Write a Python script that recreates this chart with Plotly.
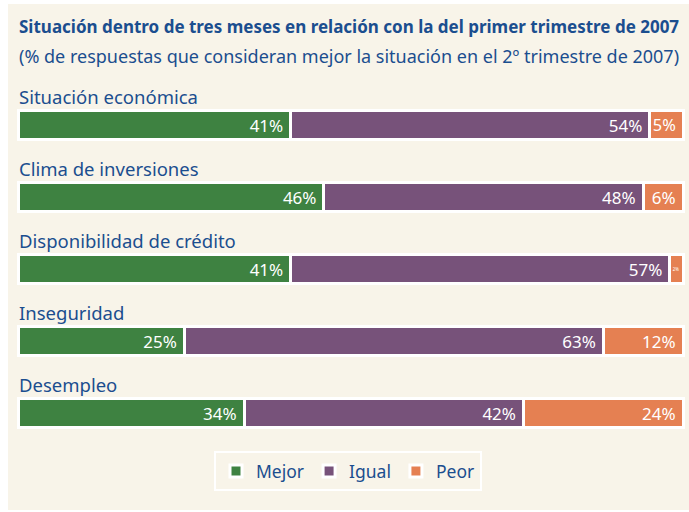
import plotly.graph_objects as go

categories = ["Situación económica", "Clima de inversiones", "Disponibilidad de crédito", "Inseguridad", "Desempleo"]
mejor = [41, 46, 41, 25, 34]
igual = [54, 48, 57, 63, 42]
peor = [5, 6, 2, 12, 24]
series_names = ["Mejor", "Igual", "Peor"]
series_colors = ["#3E8241", "#77527A", "#E58052"]

title_text = "<b>Situación dentro de tres meses en relación con la del primer trimestre de 2007</b>"
subtitle_text = "(% de respuestas que consideran mejor la situación en el 2º trimestre de 2007)"

BLUE = "#1B4E8F"
CREAM = "#F8F4E9"
FONT = "Noto Sans"

W, H = 689, 512
ML, MR, MT, MB = 16, 4, 89, 63
PW, PH = W - ML - MR, H - MT - MB

def px_to_paper_x(px):
    return (px - ML) / PW

def px_to_paper_y(py):
    return (H - MB - py) / PH

fig = go.Figure()
for name, vals, col in zip(series_names, [mejor, igual, peor], series_colors):
    fig.add_trace(go.Bar(
        name=name, y=categories, x=vals, orientation="h",
        marker=dict(color=col, line=dict(color="white", width=3)),
        text=[f"{v}%\u00a0" for v in vals], textposition="inside",
        insidetextanchor="end", textangle=0,
        insidetextfont=dict(color="white", size=17, family=FONT),
        hoverinfo="skip",
    ))

annotations = [
    dict(text=title_text, xref="paper", yref="paper", x=px_to_paper_x(17), y=px_to_paper_y(27),
         xanchor="left", yanchor="middle", showarrow=False, font=dict(size=17, color=BLUE, family=FONT)),
    dict(text=subtitle_text, xref="paper", yref="paper", x=px_to_paper_x(17), y=px_to_paper_y(56),
         xanchor="left", yanchor="middle", showarrow=False, font=dict(size=18, color=BLUE, family=FONT)),
]
for c in categories:
    annotations.append(dict(text=c, xref="paper", yref="y", x=px_to_paper_x(17), y=c, yshift=29,
                            xanchor="left", yanchor="middle", showarrow=False,
                            font=dict(size=18.5, color=BLUE, family=FONT)))

fig.update_layout(
    width=W, height=H,
    margin=dict(l=ML, r=MR, t=MT, b=MB, pad=0),
    paper_bgcolor="white", plot_bgcolor="rgba(0,0,0,0)",
    barmode="stack", bargap=1 - 29 / 72,
    xaxis=dict(range=[-0.3, 100.3], visible=False, fixedrange=True),
    yaxis=dict(range=[4.5, -0.5], visible=False, fixedrange=True, categoryorder="array", categoryarray=categories),
    showlegend=True,
    legend=dict(orientation="h", x=px_to_paper_x(348), xanchor="center", y=px_to_paper_y(451), yanchor="top",
                bgcolor=CREAM, bordercolor="white", borderwidth=2,
                font=dict(size=17.5, color=BLUE, family=FONT), traceorder="normal"),
    annotations=annotations,
    shapes=[dict(type="rect", xref="paper", yref="paper", layer="below",
                 x0=px_to_paper_x(8), x1=px_to_paper_x(690), y0=px_to_paper_y(510), y1=px_to_paper_y(4),
                 fillcolor=CREAM, line=dict(width=0))],
)

fig.write_html("out.html", config={"displayModeBar": False},
               post_script="document.body.style.margin='0';document.body.style.overflow='hidden';")
